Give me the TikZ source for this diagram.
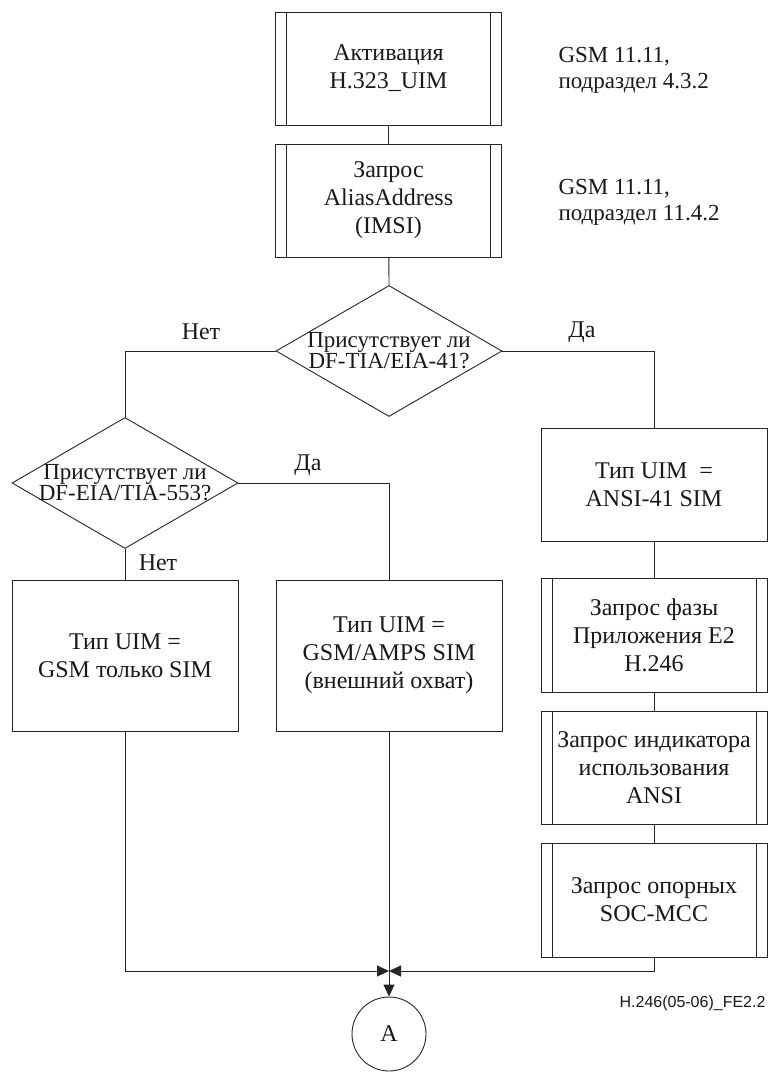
\documentclass[tikz,border=0pt]{standalone}
\usepackage{fontspec}
\setmainfont{Liberation Serif}
\newfontfamily\arialfont{Liberation Sans}
\usetikzlibrary{shapes.geometric,arrows.meta}
\begin{document}
\begin{tikzpicture}[x=1pt,y=-1pt,
  conn/.style={line width=0.9pt, draw=black!85},
  plainbox/.style={draw=black!85, line width=0.9pt, rectangle, minimum width=226pt, minimum height=#1, inner sep=1pt, align=center, text=black!90, font=\fontsize{24}{28}\selectfont},
  procbox/.style={plainbox=#1, path picture={
     \draw[conn] ([xshift=11pt]path picture bounding box.north west) -- ([xshift=11pt]path picture bounding box.south west);
     \draw[conn] ([xshift=-11pt]path picture bounding box.north east) -- ([xshift=-11pt]path picture bounding box.south east);}},
  decision/.style={draw=black!85, line width=0.9pt, diamond, minimum width=226pt, minimum height=131pt, inner sep=0pt},
  dtext/.style={align=center, text=black!90, font=\fontsize{23}{21}\selectfont},
  lab/.style={text=black!90, font=\fontsize{24}{28}\selectfont},
  refl/.style={anchor=west, align=left, text=black!90, font=\fontsize{23}{26}\selectfont},
  arr/.style={-{Triangle[length=12pt,width=11pt]}}
]
\path[fill=white] (0,0) rectangle (771,1072);
\useasboundingbox (0,0) rectangle (771,1072);

\node[procbox=113pt] (b1) at (388.5,68.5) {Активация\\H.323\_UIM};
\node[procbox=113pt] (b2) at (388.5,200.5) {Запрос\\AliasAddress\\(IMSI)};
\node[refl] (r1) at (555,70) {GSM 11.11,\\подраздел 4.3.2};
\node[refl] (r2) at (555,202) {GSM 11.11,\\подраздел 11.4.2};

\node[decision, label={[dtext]center:{Присутствует ли\\DF-TIA/EIA-41?}}] (d1) at (389,351) {};
\node[decision, label={[dtext]center:{Присутствует ли\\DF-EIA/TIA-553?}}] (d2) at (125,483) {};

\node[plainbox=151pt] (gsm) at (125,655.5) {Тип UIM =\\GSM только SIM};
\node[plainbox=151pt] (amps) at (389,655.5) {Тип UIM =\\GSM/AMPS SIM\\(внешний охват)};

\node[plainbox=113pt] (ansi) at (654,484.5) {Тип UIM~ =\\ANSI-41 SIM};
\node[procbox=114pt] (ph) at (654,635) {Запрос фазы\\Приложения E2\\H.246};
\node[procbox=113pt] (ind) at (654,767.5) {Запрос индикатора\\использования\\ANSI};
\node[procbox=114pt] (soc) at (654,900) {Запрос опорных\\SOC-MCC};

\node[draw=black!85, line width=0.9pt, circle, minimum size=74pt, inner sep=0pt, text=black!90, font=\fontsize{24}{28}\selectfont] (A) at (389,1034) {A};
\coordinate (J) at (389,971);

\node[lab] (n1) at (201,332) {Нет};
\node[lab] (y1) at (582,332) {Да};
\node[lab] (y2) at (308,465) {Да};
\node[lab] (n2) at (158,563) {Нет};

\node[anchor=east, text=black!90, font=\arialfont\fontsize{16}{18}\selectfont] (fig) at (769,1003) {H.246(05-06)\_FE2.2};

\draw[conn] (b1) -- (b2);
\draw[conn] (b2) -- (d1.north);
\draw[conn] (d1.west) -| (d2.north);
\draw[conn] (d1.east) -| (ansi.north);
\draw[conn] (d2.south) -- (gsm.north);
\draw[conn] (d2.east) -| (amps.north);
\draw[conn] (ansi) -- (ph);
\draw[conn] (ph) -- (ind);
\draw[conn] (ind) -- (soc);
\draw[conn,arr] (gsm.south) |- (J);
\draw[conn,arr] (soc.south) |- (J);
\draw[conn,arr] (amps.south) -- (A.north);
\end{tikzpicture}
\end{document}
